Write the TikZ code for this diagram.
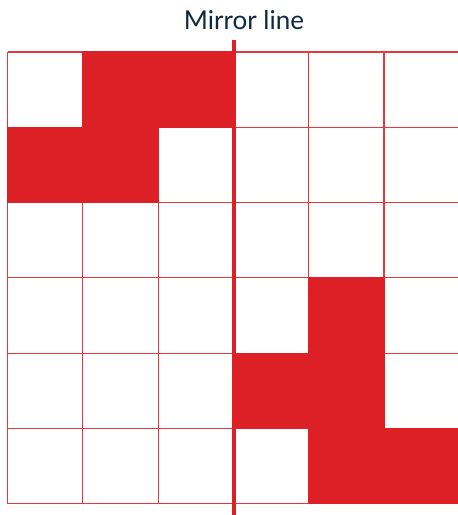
\documentclass[tikz,border=0pt]{standalone}
\usepackage{fontspec}
\setmainfont{Lato}
\definecolor{mred}{HTML}{DD1F26}
\definecolor{gline}{HTML}{E4383E}
\definecolor{navy}{HTML}{0E2841}
\begin{document}
\begin{tikzpicture}[x=1pt,y=-1pt,
  cellfill/.style={fill=mred},
  gridline/.style={draw=gline,line width=1.1pt},
  mirror/.style={draw=mred,line width=4pt}]
\useasboundingbox (0,0) rectangle (458,515);
\def\cw{75.3}
% grid
\foreach \i in {0,...,6}{
  \draw[gridline] ({7.5+\i*\cw},52) -- ({7.5+\i*\cw},{52+6*\cw});
  \draw[gridline] (7.5,{52+\i*\cw}) -- ({7.5+6*\cw},{52+\i*\cw});
}
% filled cells (col,row) 0-indexed
\foreach \c/\r in {1/0,2/0,0/1,1/1,4/3,3/4,4/4,4/5,5/5}{
  \fill[cellfill] ({7.5+\c*\cw-0.6},{52+\r*\cw-0.6}) rectangle ({7.5+(\c+1)*\cw+0.6},{52+(\r+1)*\cw+0.6});
}
% mirror line
\coordinate (mtop) at (234,39.5);
\coordinate (mbot) at (234,515);
\draw[mirror] (mtop) -- (mbot);
\node[text=navy,font=\fontsize{26}{30}\selectfont,anchor=base] (lbl) at (244,29) {Mirror line};
\end{tikzpicture}
\end{document}
